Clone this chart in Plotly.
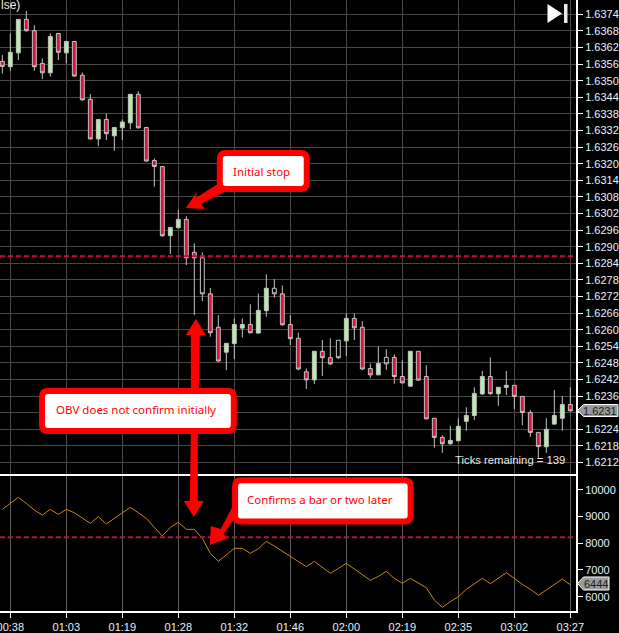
import plotly.graph_objects as go
from plotly.subplots import make_subplots

# Bar index along the time axis, tick labels sit every 7 bars
bars = list(range(72))
time_ticks = [1, 8, 15, 22, 29, 36, 43, 50, 57, 64, 71]
time_labels = ["00:38", "01:03", "01:19", "01:28", "01:32", "01:46", "02:00", "02:19", "02:35", "03:02", "03:27"]

opens = [1.63570, 1.63551, 1.63601, 1.63722, 1.63681, 1.63563, 1.63529, 1.63671, 1.63601, 1.63642,
         1.63520, 1.63433, 1.63290, 1.63360, 1.63301, 1.63330, 1.63348, 1.63451, 1.63331, 1.63212,
         1.63190, 1.62940, 1.62969, 1.62999, 1.62880, 1.62860, 1.62730, 1.62609, 1.62519, 1.62550,
         1.62606, 1.62619, 1.62588, 1.62669, 1.62750, 1.62730, 1.62619, 1.62569, 1.62448, 1.62419,
         1.62522, 1.62499, 1.62562, 1.62560, 1.62641, 1.62609, 1.62460, 1.62437, 1.62500, 1.62500,
         1.62431, 1.62396, 1.62522, 1.62431, 1.62280, 1.62211, 1.62188, 1.62199, 1.62269, 1.62290,
         1.62368, 1.62431, 1.62369, 1.62392, 1.62399, 1.62359, 1.62301, 1.62229, 1.62177, 1.62259,
         1.62280, 1.62330]
highs = [1.63593, 1.63671, 1.63722, 1.63752, 1.63701, 1.63581, 1.63671, 1.63671, 1.63642, 1.63642,
         1.63530, 1.63452, 1.63360, 1.63382, 1.63331, 1.63360, 1.63451, 1.63462, 1.63331, 1.63219,
         1.63190, 1.62970, 1.63033, 1.63011, 1.62912, 1.62880, 1.62751, 1.62653, 1.62551, 1.62641,
         1.62641, 1.62692, 1.62731, 1.62801, 1.62783, 1.62760, 1.62653, 1.62590, 1.62460, 1.62522,
         1.62563, 1.62569, 1.62562, 1.62659, 1.62659, 1.62631, 1.62478, 1.62539, 1.62530, 1.62511,
         1.62490, 1.62522, 1.62522, 1.62472, 1.62280, 1.62219, 1.62252, 1.62280, 1.62320, 1.62392,
         1.62451, 1.62500, 1.62392, 1.62451, 1.62399, 1.62359, 1.62310, 1.62229, 1.62280, 1.62382,
         1.62360, 1.62392]
lows = [1.63526, 1.63536, 1.63575, 1.63677, 1.63536, 1.63506, 1.63515, 1.63575, 1.63563, 1.63515,
        1.63428, 1.63288, 1.63264, 1.63286, 1.63247, 1.63286, 1.63325, 1.63327, 1.63207, 1.63117,
        1.62936, 1.62874, 1.62966, 1.62834, 1.62653, 1.62704, 1.62575, 1.62484, 1.62454, 1.62494,
        1.62572, 1.62587, 1.62586, 1.62647, 1.62716, 1.62615, 1.62545, 1.62454, 1.62386, 1.62404,
        1.62433, 1.62472, 1.62494, 1.62505, 1.62563, 1.62454, 1.62425, 1.62436, 1.62455, 1.62405,
        1.62406, 1.62394, 1.62416, 1.62276, 1.62174, 1.62155, 1.62184, 1.62196, 1.62235, 1.62274,
        1.62365, 1.62365, 1.62325, 1.62364, 1.62313, 1.62255, 1.62213, 1.62135, 1.62155, 1.62257,
        1.62235, 1.62304]
closes = [1.63552, 1.63603, 1.63722, 1.63681, 1.63551, 1.63529, 1.63660, 1.63603, 1.63642, 1.63517,
          1.63431, 1.63290, 1.63360, 1.63309, 1.63331, 1.63351, 1.63451, 1.63330, 1.63210, 1.63190,
          1.62940, 1.62970, 1.62999, 1.62860, 1.62860, 1.62730, 1.62589, 1.62487, 1.62551, 1.62619,
          1.62619, 1.62589, 1.62670, 1.62750, 1.62730, 1.62618, 1.62568, 1.62458, 1.62419, 1.62522,
          1.62499, 1.62477, 1.62499, 1.62641, 1.62607, 1.62458, 1.62437, 1.62478, 1.62477, 1.62431,
          1.62408, 1.62522, 1.62418, 1.62278, 1.62211, 1.62188, 1.62200, 1.62251, 1.62290, 1.62370,
          1.62431, 1.62369, 1.62392, 1.62399, 1.62359, 1.62301, 1.62229, 1.62178, 1.62240, 1.62290,
          1.62330, 1.62307]
hollow_bars = [25, 34, 42, 48]

obv = [9265, 9489, 9713, 9489, 9240, 9053, 9265, 9078, 9265, 9140,
       8953, 8742, 8991, 8717, 8928, 9140, 9340, 9140, 8928, 8592,
       8268, 8592, 8779, 8517, 8517, 8181, 7620, 7321, 7558, 7807,
       7807, 7620, 7795, 8069, 7894, 7707, 7520, 7321, 7122, 7321,
       7097, 6873, 7059, 7246, 7035, 6823, 6611, 6760, 6947, 6686,
       6499, 6686, 6524, 6337, 5876, 5602, 5813, 6000, 6274, 6474,
       6686, 6486, 6686, 6897, 6686, 6461, 6274, 6050, 6250, 6461,
       6661, 6444]

price_ticks = [1.6374, 1.6368, 1.6362, 1.6356, 1.6350, 1.6344, 1.6338, 1.6332, 1.6326, 1.6320,
               1.6314, 1.6308, 1.6302, 1.6296, 1.6290, 1.6284, 1.6278, 1.6272, 1.6266, 1.6260,
               1.6254, 1.6248, 1.6242, 1.6236, 1.6230, 1.6224, 1.6218, 1.6212]
# the 1.6230 label sits under the last price tag
price_labels = ["" if t == 1.6230 else f"{t:.4f}" for t in price_ticks]
obv_ticks = [10000, 9000, 8000, 7000, 6000]

stop_level = 1.62866
obv_level = 8221
last_price = 1.6231
last_obv = 6444

FONT = "Liberation Sans"
CALLOUT_FONT = "Noto Sans"
PLOT_W = 576.5
PLOT_H = 611
RED = "#ff0000"
GRID = "#484848"
TICK_TEXT = "#e6f2ff"


# image pixels to paper fractions, for the drawn callouts
def px(x):
    return x / PLOT_W


def py(y):
    return 1 - y / PLOT_H


def path(points):
    return "M " + " L ".join(f"{px(x):.5f},{py(y):.5f}" for x, y in points) + " Z"


def rounded(x0, y0, x1, y1, r):
    return (f"M {px(x0 + r):.5f},{py(y0):.5f} L {px(x1 - r):.5f},{py(y0):.5f} "
            f"Q {px(x1):.5f},{py(y0):.5f} {px(x1):.5f},{py(y0 + r):.5f} "
            f"L {px(x1):.5f},{py(y1 - r):.5f} Q {px(x1):.5f},{py(y1):.5f} {px(x1 - r):.5f},{py(y1):.5f} "
            f"L {px(x0 + r):.5f},{py(y1):.5f} Q {px(x0):.5f},{py(y1):.5f} {px(x0):.5f},{py(y1 - r):.5f} "
            f"L {px(x0):.5f},{py(y0 + r):.5f} Q {px(x0):.5f},{py(y0):.5f} {px(x0 + r):.5f},{py(y0):.5f} Z")


def filled(d, color, line=None, width=0):
    return dict(type="path", xref="paper", yref="paper", path=d, fillcolor=color,
                line=dict(color=line or color, width=width), layer="above")


fig = make_subplots(rows=2, cols=1, shared_xaxes=True, vertical_spacing=0, row_heights=[475, 136])

solid = [i for i in bars if i not in hollow_bars]
fig.add_trace(go.Candlestick(
    x=solid,
    open=[opens[i] for i in solid],
    high=[highs[i] for i in solid],
    low=[lows[i] for i in solid],
    close=[closes[i] for i in solid],
    increasing=dict(fillcolor="#b4f0a0", line=dict(color="#c4c4c4", width=1)),
    decreasing=dict(fillcolor="#dc143c", line=dict(color="#c4c4c4", width=1)),
    whiskerwidth=0,
), row=1, col=1)
fig.add_trace(go.Candlestick(
    x=hollow_bars,
    open=[opens[i] for i in hollow_bars],
    high=[highs[i] for i in hollow_bars],
    low=[lows[i] for i in hollow_bars],
    close=[closes[i] for i in hollow_bars],
    increasing=dict(fillcolor="#000000", line=dict(color="#c4c4c4", width=1)),
    decreasing=dict(fillcolor="#000000", line=dict(color="#c4c4c4", width=1)),
    whiskerwidth=0,
), row=1, col=1)
fig.add_trace(go.Scatter(x=bars, y=obv, mode="lines", line=dict(color="#c8860f", width=1)), row=2, col=1)

shapes = [
    # stop level lines
    dict(type="line", xref="paper", yref="y", x0=0, x1=1, y0=stop_level, y1=stop_level,
         line=dict(color="#c8103c", width=2, dash="5px,3px")),
    dict(type="line", xref="paper", yref="y2", x0=0, x1=1, y0=obv_level, y1=obv_level,
         line=dict(color="#a51a42", width=2, dash="5px,3px")),
    # pane separator
    dict(type="line", xref="paper", yref="paper", x0=0, x1=1, y0=py(475), y1=py(475),
         line=dict(color="#ffffff", width=2), layer="above"),
    # arrows
    filled(path([(221, 182), (196, 198), (197, 192), (186, 208), (205, 209), (201, 204), (226, 191)]), RED),
    filled(path([(196, 319), (206, 335), (200, 335), (199, 390), (191, 390), (191, 335), (186, 335)]), RED),
    filled(path([(191, 432), (198, 432), (198, 501), (204, 501), (194, 517), (184, 501), (190, 501)]), RED),
    filled(path([(232, 508), (221, 529), (211, 526), (210, 545), (228, 538), (224, 534), (237, 515)]), RED),
    # callout boxes
    filled(rounded(220, 153, 307, 189, 6), "#ffffff", RED, 6),
    filled(rounded(42, 391, 234, 431, 6), "#ffffff", RED, 6),
    filled(rounded(235.3, 480.3, 411, 521.5, 6), "#ffffff", RED, 6),
    # jump to end button
    filled(path([(548, 4), (562.5, 13.5), (548, 23)]), "#ffffff"),
    filled(path([(564.5, 4), (568, 4), (568, 23), (564.5, 23)]), "#e8e8e8"),
    # last value tags
    filled(path([(578, 410.5), (584, 404.5), (618.5, 404.5), (618.5, 416.5), (584, 416.5)]), "#9a9a9a", "#ffffff", 1),
    filled(path([(578, 583.5), (584, 577), (609.5, 577), (609.5, 590), (584, 590)]), "#9a9a9a", "#ffffff", 1),
]

annotations = [
    dict(text="Initial stop", x=px(262), y=py(171.5), font=dict(family=CALLOUT_FONT, size=11.5, color=RED)),
    dict(text="OBV does not confirm initially", x=px(136), y=py(410), font=dict(family=CALLOUT_FONT, size=11.5, color=RED)),
    dict(text="Confirms a bar or two later", x=px(320), y=py(499), font=dict(family=CALLOUT_FONT, size=11.5, color=RED)),
    dict(text="Ticks remaining = 139", x=px(510), y=py(460), font=dict(family=FONT, size=11.3, color="#e8e8e8")),
    dict(text=f"{last_price:.4f}", x=px(601), y=py(410.5), font=dict(family=FONT, size=11, color="#1c1c1c")),
    dict(text=str(last_obv), x=px(597), y=py(583.5), font=dict(family=FONT, size=11, color="#1c1c1c")),
]
for a in annotations:
    a.update(xref="paper", yref="paper", showarrow=False, xanchor="center", yanchor="middle")
annotations.append(dict(text="lse)", x=0, y=py(5), xref="paper", yref="paper", showarrow=False,
                        xanchor="left", yanchor="middle", borderpad=0,
                        font=dict(family=FONT, size=12, color="#f4f0d8")))

fig.update_layout(
    width=619,
    height=633,
    margin=dict(l=0, r=42.5, t=0, b=22),
    paper_bgcolor="#000000",
    plot_bgcolor="#000000",
    showlegend=False,
    hovermode=False,
    shapes=shapes,
    annotations=annotations,
    font=dict(family=FONT, size=11, color=TICK_TEXT),
)
fig.update_xaxes(
    automargin=False,
    range=[-0.29, 71.71],
    tickvals=time_ticks,
    ticktext=time_labels,
    showgrid=True,
    gridcolor=GRID,
    gridwidth=1,
    zeroline=False,
    rangeslider=dict(visible=False),
    ticks="",
)
fig.update_xaxes(showticklabels=False, row=1, col=1)
fig.update_xaxes(
    showticklabels=True,
    ticks="outside",
    ticklen=5,
    tickcolor="#ffffff",
    showline=True,
    linecolor="#ffffff",
    linewidth=2,
    gridcolor="#5c5c5c",
    ticklabeloverflow="allow",
    row=2, col=1,
)
fig.update_yaxes(
    automargin=False,
    side="right",
    range=[1.62075, 1.63792],
    tickvals=price_ticks,
    ticktext=price_labels,
    showgrid=True,
    gridcolor=GRID,
    zeroline=False,
    ticks="outside",
    ticklen=5,
    tickcolor="#ffffff",
    showline=True,
    linecolor="#ffffff",
    linewidth=2,
    row=1, col=1,
)
fig.update_yaxes(
    automargin=False,
    side="right",
    range=[5465, 10550],
    tickvals=obv_ticks,
    tickformat="d",
    showgrid=False,
    zeroline=False,
    ticks="outside",
    ticklen=5,
    tickcolor="#ffffff",
    showline=True,
    linecolor="#ffffff",
    linewidth=2,
    row=2, col=1,
)

fig.write_html("out.html", config=dict(displayModeBar=False), post_script="document.body.style.margin='0';")
